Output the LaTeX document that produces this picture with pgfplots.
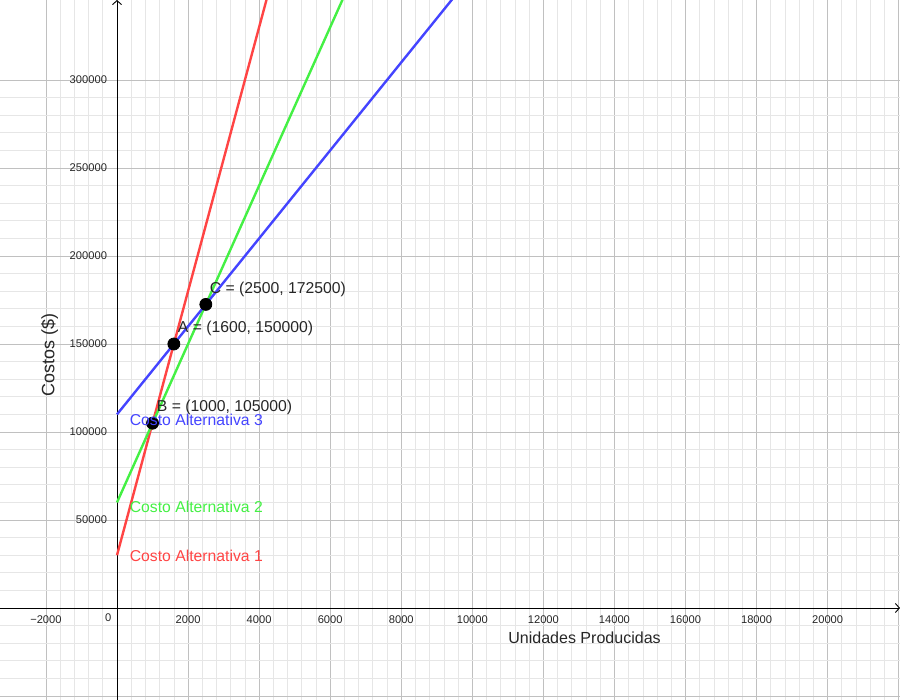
\documentclass[border=0pt]{standalone}
\usepackage{fontspec}
\setmainfont{Liberation Sans}
\usepackage{pgfplots}
\pgfplotsset{compat=1.18}
\usetikzlibrary{arrows.meta}
\definecolor{cred}{RGB}{255,68,68}
\definecolor{cgreen}{RGB}{68,240,68}
\definecolor{cblue}{RGB}{68,68,255}
\definecolor{gmaj}{RGB}{192,192,192}
\definecolor{gmin}{RGB}{230,230,230}
\begin{document}
\begin{tikzpicture}
\begin{axis}[
  scale only axis, width=450bp, height=350bp,
  xmin=-3293, xmax=22037, ymin=-52270, ymax=345450,
  scaled ticks=false,
  axis lines=middle,
  axis line style={black, line width=0.45bp, -{Straight Barb[length=2bp,width=4.5bp]}},
  xtick={-2000,0,...,22000},
  xticklabels={−2000,,2000,4000,6000,8000,10000,12000,14000,16000,18000,20000,},
  ytick={-50000,0,...,300000},
  yticklabels={,,50000,100000,150000,200000,250000,300000},
  extra x ticks={-4000},
  extra x tick labels={},
  extra y ticks={350000},
  extra y tick labels={},
  minor x tick num=4, minor y tick num=4,
  grid=both,
  major grid style={gmaj, line width=0.4bp},
  minor grid style={gmin, line width=0.35bp},
  major tick length=0pt, minor tick length=0pt,
  tick label style={font=\fontsize{5.6}{6.5}\selectfont, text=black!85},
  xticklabel style={yshift=-0.5bp},
  yticklabel style={xshift=-1.5bp},
  clip mode=individual,
]
\addplot[cred, line width=1.2bp] coordinates {(0,30000) (4400,360000)};
\addplot[cgreen, line width=1.2bp] coordinates {(0,60000) (7000,375000)};
\addplot[cblue, line width=1.2bp] coordinates {(0,110000) (10000,360000)};
\addplot[only marks, mark=*, mark size=3bp, mark options={fill=black, draw=black}] coordinates {(1600,150000) (1000,105000) (2500,172500)};
\node[anchor=north east, font=\fontsize{5.6}{6.5}\selectfont, text=black!85, inner sep=0pt] at (axis cs:-150,-3000) {0};
\node[anchor=west, inner sep=0pt, font=\fontsize{7.9}{9}\selectfont, text=cred] at (axis cs:350,29500) {Costo Alternativa 1};
\node[anchor=west, inner sep=0pt, font=\fontsize{7.9}{9}\selectfont, text=cgreen] at (axis cs:350,57400) {Costo Alternativa 2};
\node[anchor=west, inner sep=0pt, font=\fontsize{7.9}{9}\selectfont, text=cblue] at (axis cs:350,106800) {Costo Alternativa 3};
\node[anchor=west, inner sep=0pt, font=\fontsize{7.9}{9}\selectfont, text=black!85] at (axis cs:1112,114200) {B = (1000, 105000)};
\node[anchor=west, inner sep=0pt, font=\fontsize{7.9}{9}\selectfont, text=black!85] at (axis cs:1703,159090) {A = (1600, 150000)};
\node[anchor=west, inner sep=0pt, font=\fontsize{7.9}{9}\selectfont, text=black!85] at (axis cs:2603,181250) {C = (2500, 172500)};
\node[inner sep=0pt, font=\fontsize{8.05}{9}\selectfont, text=black!85] at (axis cs:13158,-17045) {Unidades Producidas};
\node[inner sep=0pt, rotate=90, font=\fontsize{9}{10}\selectfont, text=black!85] at (axis cs:-1900,143750) {Costos (\$)};
\end{axis}
\pgfresetboundingbox
\path[use as bounding box] (current axis.south west) rectangle (current axis.north east);
\end{tikzpicture}
\end{document}
